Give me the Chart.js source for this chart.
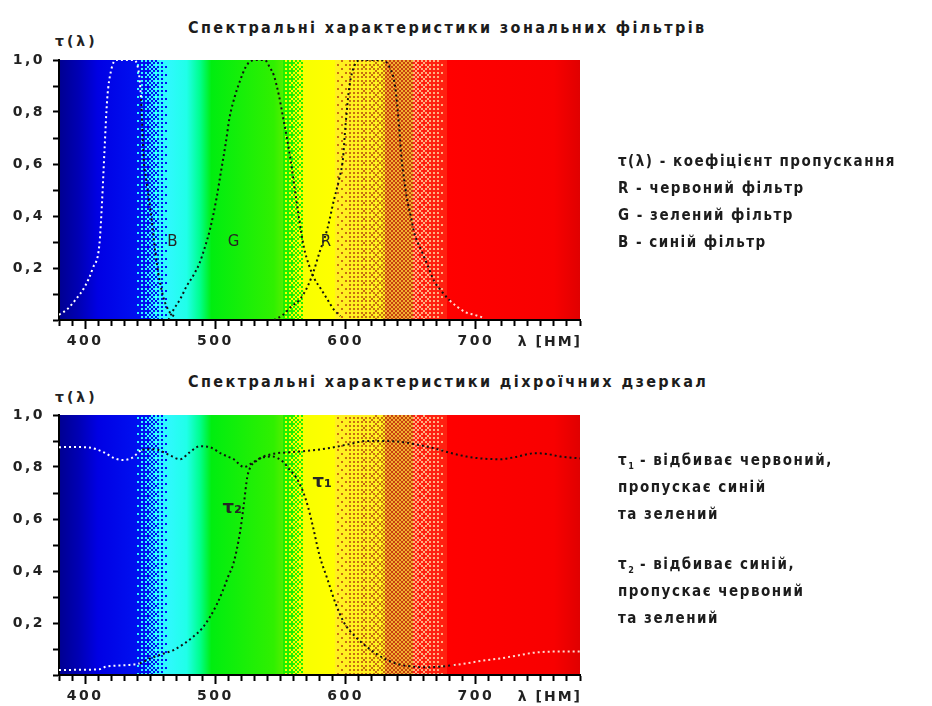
<!DOCTYPE html>
<html lang="uk">
<head>
<meta charset="utf-8">
<title>Спектральні характеристики</title>
<script src="https://cdn.jsdelivr.net/npm/chart.js@4.4.1/dist/chart.umd.min.js"></script>
<style>
  body { margin: 0; background: #fff; }
  #page { position: relative; width: 932px; height: 706px; overflow: hidden; color: #1c1c1c; }
  .title { position: absolute; left: 188px; white-space: nowrap; font: bold 16px 'DejaVu Sans Condensed', 'DejaVu Sans', sans-serif; letter-spacing: 2.4px; }
  .tau { position: absolute; left: 55px; font: bold 14px 'DejaVu Sans', sans-serif; letter-spacing: 3px; color: #222; }
  .notes { position: absolute; left: 618px; white-space: nowrap; font: bold 15px 'DejaVu Sans Condensed', 'DejaVu Sans', sans-serif; letter-spacing: 1.5px; line-height: 27px; }
  .notes sub { font-size: 9px; letter-spacing: 0; line-height: 0; }
  canvas { position: absolute; left: 0; }
</style>
</head>
<body>
<div id="page">
  <div class="title" style="top:18px">Спектральні характеристики зональних фільтрів</div>
  <div class="tau" style="top:33px">τ(λ)</div>
  <canvas id="chart-zonal" width="932" height="353" style="top:0"></canvas>

  <div class="title" style="top:372px">Спектральні характеристики діхроїчних дзеркал</div>
  <div class="tau" style="top:389px">τ(λ)</div>
  <canvas id="chart-dichroic" width="932" height="353" style="top:353px"></canvas>

  <div class="notes" style="top:148px">
    τ(λ) - коефіцієнт пропускання<br>R - червоний фільтр<br>G - зелений фільтр<br>B - синій фільтр
  </div>
  <div class="notes" style="top:447px">
    τ<sub>1</sub> - відбиває червоний,<br>пропускає синій<br>та зелений
  </div>
  <div class="notes" style="top:551px">
    τ<sub>2</sub> - відбиває синій,<br>пропускає червоний<br>та зелений
  </div>
</div>
<script>
// ─── DATA ─────────────────────────────────────────────────────────────
const xTickLabels = [400, 500, 600, 700];
const yTickLabels = [0.2, 0.4, 0.6, 0.8, 1.0];

// зональні фільтри
const bLam = [380, 386, 393, 400, 406, 411, 413, 415, 417, 420, 424, 430, 437, 441, 443, 445, 447, 451, 455, 460, 465, 470];
const bTau = [0.02, 0.04, 0.08, 0.13, 0.2, 0.29, 0.45, 0.66, 0.85, 0.96, 1.0, 1.0, 1.0, 0.96, 0.85, 0.62, 0.54, 0.39, 0.22, 0.09, 0.03, 0.01];
const gLam = [464, 468, 473, 478, 483, 488, 492, 496, 501, 504, 508, 511, 515, 519, 523, 527, 532, 538, 542, 545, 549, 552, 555, 558, 560, 564, 568, 572, 576, 581, 586, 591, 596];
const gTau = [0.0, 0.04, 0.08, 0.13, 0.17, 0.22, 0.28, 0.35, 0.47, 0.56, 0.68, 0.78, 0.86, 0.92, 0.97, 0.995, 1.0, 1.0, 0.97, 0.94, 0.86, 0.78, 0.7, 0.61, 0.54, 0.4, 0.28, 0.21, 0.16, 0.12, 0.08, 0.04, 0.015];
const rLam = [545, 552, 558, 565, 570, 575, 580, 586, 591, 595, 598, 600, 603, 607, 612, 620, 628, 634, 638, 641, 643, 645, 647, 650, 653, 658, 663, 668, 673, 680, 686, 692, 699, 705];
const rTau = [0.0, 0.02, 0.05, 0.08, 0.12, 0.18, 0.26, 0.35, 0.46, 0.54, 0.62, 0.75, 0.9, 0.98, 1.0, 1.0, 1.0, 0.97, 0.9, 0.75, 0.62, 0.54, 0.47, 0.4, 0.33, 0.27, 0.21, 0.15, 0.115, 0.075, 0.05, 0.03, 0.02, 0.01];

// діхроїчні дзеркала
const t1Lam = [380, 390, 403, 415, 422, 429, 436, 444, 450, 456, 465, 473, 480, 488, 496, 505, 514, 522, 528, 535, 544, 552, 557, 562, 567, 571, 575, 580, 586, 592, 599, 607, 616, 624, 632, 640, 647, 660, 673, 683, 693, 705, 719, 732, 745, 760, 780];
const t1Tau = [0.876, 0.877, 0.875, 0.855, 0.835, 0.827, 0.835, 0.866, 0.868, 0.866, 0.845, 0.83, 0.855, 0.88, 0.876, 0.85, 0.83, 0.80, 0.815, 0.835, 0.84, 0.82, 0.79, 0.76, 0.71, 0.65, 0.57, 0.46, 0.37, 0.28, 0.2, 0.15, 0.11, 0.08, 0.058, 0.042, 0.035, 0.03, 0.032, 0.038, 0.045, 0.055, 0.064, 0.075, 0.086, 0.09, 0.09];
const t2Lam = [380, 395, 411, 416, 432, 442, 450, 459, 468, 476, 483, 490, 496, 501, 506, 510, 514, 519, 522, 524.5, 527, 532, 537, 547, 556, 565, 578, 591, 603, 616, 629, 642, 655, 668, 680, 693, 706, 719, 732, 745, 755, 765, 780];
const t2Tau = [0.019, 0.02, 0.022, 0.032, 0.038, 0.045, 0.064, 0.08, 0.096, 0.12, 0.147, 0.18, 0.224, 0.27, 0.327, 0.38, 0.43, 0.55, 0.66, 0.76, 0.80, 0.825, 0.84, 0.853, 0.856, 0.86, 0.866, 0.876, 0.888, 0.9, 0.9, 0.897, 0.886, 0.872, 0.855, 0.84, 0.832, 0.83, 0.84, 0.853, 0.85, 0.84, 0.833];

// підписи кривих (λ, τ)
const zonalMarks = ['B', 'G', 'R'];
const zonalMarkLam = [467, 514, 585];
const zonalMarkTau = [0.3, 0.3, 0.3];
const dichroicMarks = ['τ₂', 'τ₁'];
const dichroicMarkLam = [513, 582];
const dichroicMarkTau = [0.64, 0.74];

// ─── SPECTRUM ─────────────────────────────────────────────────────────
const spectrumStops = [
  [380, '#000090'], [395, '#0000b4'], [410, '#0000e4'], [440, '#0010f0'],
  [463, '#30f8ff'], [478, '#20ffe8'], [488, '#00ff90'], [497, '#00ee10'],
  [545, '#30f000'], [552, '#50f000'], [569, '#f8ff00'], [592, '#ffff00'],
  [630, '#f0a020'], [652, '#f03010'], [678, '#ff0000'], [760, '#f80000'], [780, '#e00000'],
];
// [від, до, колір 1, колір 2, частка на початку, частка в кінці]
const ditherBands = [
  [440, 463, '#0010f0', '#30f8ff', 0.05, 0.95],
  [552, 569, '#20f000', '#f8ff00', 0.1, 0.95],
  [592, 630, '#fff020', '#c87010', 0.1, 0.45],
  [630, 652, '#f0b030', '#c84010', 0.5, 0.5],
  [652, 678, '#ff2010', '#ffb080', 0.5, 0.05],
];
const BAYER = [[0, 8, 2, 10], [12, 4, 14, 6], [3, 11, 1, 9], [15, 7, 13, 5]];

const spectrumPlugin = {
  id: 'spectrum',
  beforeDraw(chart) {
    const { ctx, chartArea: a, scales: { x } } = chart;
    const g = ctx.createLinearGradient(a.left, 0, a.right, 0);
    spectrumStops.forEach(([l, c]) => g.addColorStop((x.getPixelForValue(l) - a.left) / a.width, c));
    ctx.save();
    ctx.fillStyle = g;
    ctx.fillRect(a.left, a.top, a.width, a.height);
    ditherBands.forEach(([l0, l1, c0, c1, t0, t1]) => {
      const x0 = Math.round(x.getPixelForValue(l0)), x1 = Math.round(x.getPixelForValue(l1));
      for (let px = x0; px < x1; px += 2) {
        const t = t0 + (t1 - t0) * (px - x0) / (x1 - x0);
        for (let py = Math.round(a.top); py < a.bottom; py += 2) {
          const th = (BAYER[(py >> 1) & 3][(px >> 1) & 3] + 0.5) / 16;
          ctx.fillStyle = t > th ? c1 : c0;
          ctx.fillRect(px, py, 2, Math.min(2, a.bottom - py));
        }
      }
    });
    ctx.restore();
    ctx.letterSpacing = '2.5px';
  },
  afterDraw(chart) {
    chart.ctx.letterSpacing = '0px';
  },
};

// ─── LABELS ───────────────────────────────────────────────────────────
const marksPlugin = {
  id: 'marks',
  afterDraw(chart) {
    const { ctx, chartArea: a, scales: { x, y } } = chart;
    const m = chart.options.plugins.marks;
    ctx.save();
    ctx.fillStyle = '#262626';
    ctx.textAlign = 'center';
    ctx.textBaseline = 'middle';
    ctx.font = m.font;
    m.text.forEach((t, i) => ctx.fillText(t, x.getPixelForValue(m.lam[i]), y.getPixelForValue(m.tau[i])));
    // одиниці по осі x
    ctx.letterSpacing = '2px';
    ctx.fillStyle = '#222';
    ctx.textAlign = 'right';
    ctx.font = 'bold 14px "DejaVu Sans"';
    ctx.fillText('λ [НМ]', a.right + 2, a.bottom + 22);
    ctx.restore();
  },
};

function series(lam, tau) {
  return lam.map((l, i) => ({ x: l, y: tau[i] }));
}

function dotColor(l, lightRed) {
  if (l < 442) return '#ffffff';
  if (lightRed && l > 676) return '#ffd8d0';
  return '#111111';
}

function curve(label, lam, tau, lightRed) {
  return {
    label,
    data: series(lam, tau),
    borderWidth: 2,
    borderDash: [2, 3],
    borderCapStyle: 'butt',
    pointRadius: 0,
    cubicInterpolationMode: 'monotone',
    segment: { borderColor: c => dotColor(c.p0.parsed.x, lightRed) },
  };
}

function makeChart(id, datasets, marks, padTop, axisHeight) {
  return new Chart(document.getElementById(id), {
    type: 'line',
    data: { datasets },
    plugins: [spectrumPlugin, marksPlugin],
    options: {
      responsive: false,
      animation: false,
      layout: { padding: { left: 0, top: padTop, right: 352, bottom: 0 } },
      plugins: { legend: { display: false }, tooltip: { enabled: false }, marks },
      scales: {
        x: {
          type: 'linear', min: 380, max: 780,
          afterFit: s => { s.height = axisHeight; },
          border: { color: '#000', width: 2 },
          grid: {
            drawOnChartArea: false, color: '#000', tickLength: 9, tickWidth: 2,
            tickBorderDash: c => (c.tick && c.tick.value % 100 === 0 ? [] : [5, 30]),
          },
          ticks: {
            stepSize: 10, autoSkip: false, maxRotation: 0, padding: 4, color: '#222',
            font: { family: 'DejaVu Sans', size: 14, weight: 'bold' },
            callback: v => (xTickLabels.includes(v) ? String(v) : ''),
          },
        },
        y: {
          min: 0, max: 1,
          afterFit: s => { s.width = 59; },
          border: { color: '#000', width: 2 },
          grid: { drawOnChartArea: false, color: '#000', tickLength: 6, tickWidth: 2 },
          ticks: {
            stepSize: 0.1, autoSkip: false, padding: 8, color: '#222',
            font: { family: 'DejaVu Sans', size: 14, weight: 'bold' },
            callback: v => {
              const r = Math.round(v * 10) / 10;
              return yTickLabels.includes(r) ? r.toFixed(1).replace('.', ',') : '';
            },
          },
        },
      },
    },
  });
}

// ─── INIT ─────────────────────────────────────────────────────────────
makeChart('chart-zonal', [
  curve('B', bLam, bTau, false),
  curve('G', gLam, gTau, false),
  curve('R', rLam, rTau, true),
], { text: zonalMarks, lam: zonalMarkLam, tau: zonalMarkTau, font: '15px "DejaVu Sans"' }, 60, 33);

makeChart('chart-dichroic', [
  curve('τ1', t1Lam, t1Tau, true),
  curve('τ2', t2Lam, t2Tau, false),
], { text: dichroicMarks, lam: dichroicMarkLam, tau: dichroicMarkTau, font: 'bold 18px "DejaVu Sans"' }, 62, 31);
</script>
</body>
</html>
